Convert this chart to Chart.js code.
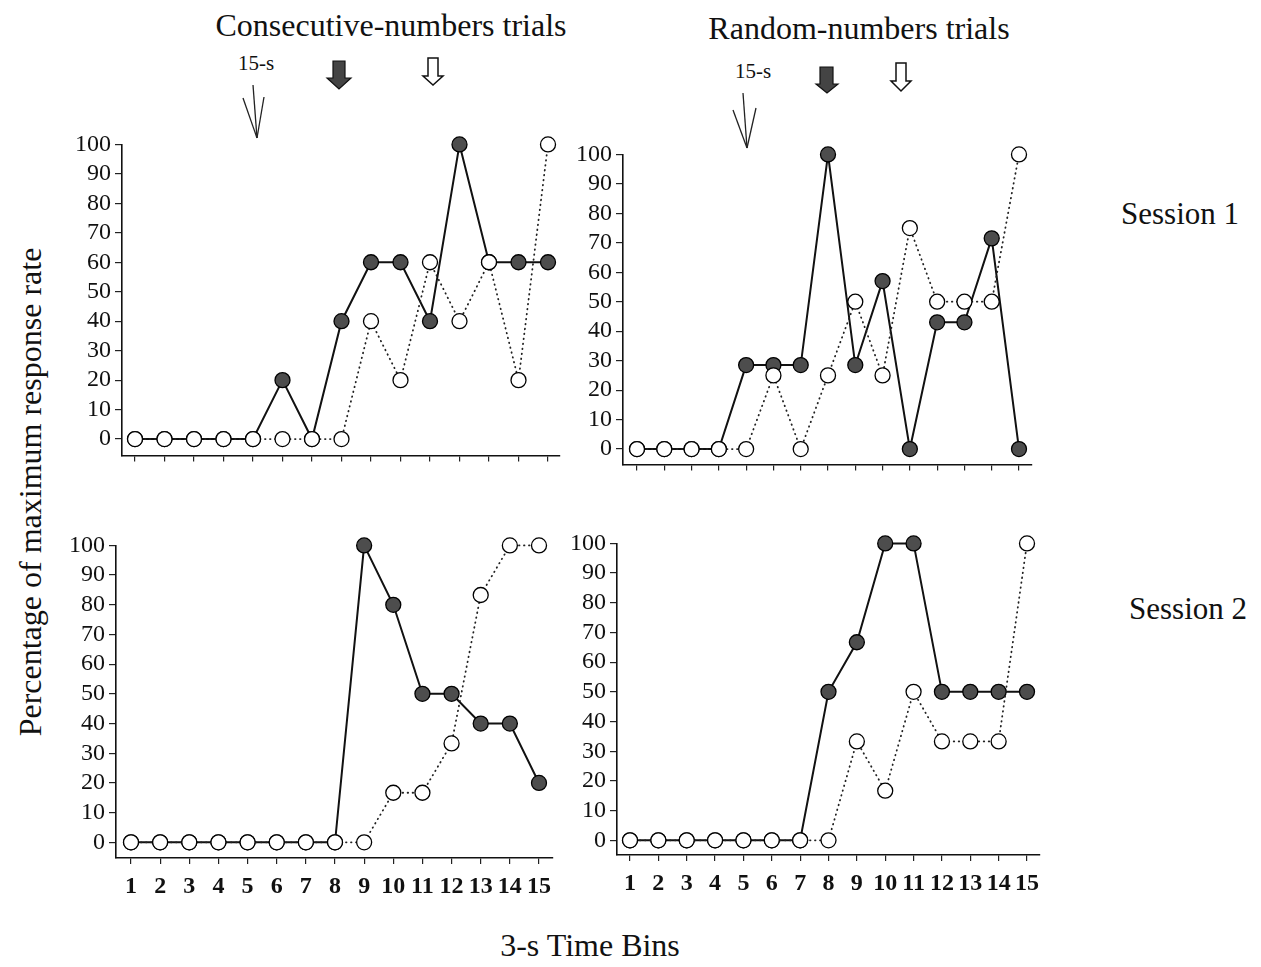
<!DOCTYPE html>
<html>
<head>
<meta charset="utf-8">
<title>Response rate by time bin</title>
<script src="https://cdn.jsdelivr.net/npm/chart.js"></script>
<style>
  body { margin: 0; background: #fff; width: 1261px; height: 967px; position: relative; overflow: hidden;
         font-family: "Liberation Serif", "Times New Roman", serif; color: #111; }
  .lbl { position: absolute; white-space: nowrap; transform: translate(-50%, -50%); line-height: 1; }
  canvas.panel { position: absolute; }
  svg.marks { position: absolute; left: 0; top: 0; pointer-events: none; }
</style>
</head>
<body>

<div class="lbl" style="left:391px;top:25px;font-size:32px;">Consecutive-numbers trials</div>
<div class="lbl" style="left:859px;top:28px;font-size:32px;">Random-numbers trials</div>
<div class="lbl" style="left:256px;top:63px;font-size:21px;">15-s</div>
<div class="lbl" style="left:753px;top:71px;font-size:21px;">15-s</div>
<div class="lbl" style="left:1180px;top:213px;font-size:31px;">Session 1</div>
<div class="lbl" style="left:1188px;top:608px;font-size:31px;">Session 2</div>
<div class="lbl" style="left:30px;top:492px;font-size:32px;transform:translate(-50%,-50%) rotate(-90deg);">Percentage of maximum response rate</div>
<div class="lbl" style="left:590px;top:945px;font-size:32px;">3-s Time Bins</div>

<canvas class="panel" id="tl"></canvas>
<canvas class="panel" id="tr"></canvas>
<canvas class="panel" id="bl"></canvas>
<canvas class="panel" id="br"></canvas>

<svg class="marks" width="1261" height="967">
  <!-- 15-s arrows -->
  <g stroke="#222" stroke-width="1.3" fill="none">
    <line x1="253" y1="85" x2="257" y2="138"/>
    <line x1="243" y1="98" x2="257" y2="138"/>
    <line x1="264" y1="97" x2="257" y2="138"/>
    <line x1="743" y1="93" x2="747" y2="148"/>
    <line x1="733" y1="110" x2="747" y2="148"/>
    <line x1="756" y1="108" x2="747" y2="148"/>
  </g>
  <!-- filled arrows -->
  <g fill="#444" stroke="#111" stroke-width="1.2">
    <polygon points="333,61 345,61 345,78 351,78 339,89 327,78 333,78"/>
    <polygon points="820,67 833,67 833,84 838,84 827,93 816,84 820,84"/>
  </g>
  <!-- open arrows -->
  <g fill="#fff" stroke="#111" stroke-width="1.5">
    <polygon points="428,58 438,58 438,76 443,76 433,85 423,76 428,76"/>
    <polygon points="896,63 906,63 906,81 911,81 901,91 891,81 896,81"/>
  </g>
</svg>

<script>
// 3-s time bins
const bins = [1, 2, 3, 4, 5, 6, 7, 8, 9, 10, 11, 12, 13, 14, 15];
const yTicks = [0, 10, 20, 30, 40, 50, 60, 70, 80, 90, 100];

// Consecutive-numbers trials, session 1
const consS1Filled = [0, 0, 0, 0, 0, 20, 0, 40, 60, 60, 40, 100, 60, 60, 60];
const consS1Open   = [0, 0, 0, 0, 0, 0, 0, 0, 40, 20, 60, 40, 60, 20, 100];
// Random-numbers trials, session 1
const randS1Filled = [0, 0, 0, 0, 28.5, 28.5, 28.5, 100, 28.5, 57, 0, 43, 43, 71.5, 0];
const randS1Open   = [0, 0, 0, 0, 0, 25, 0, 25, 50, 25, 75, 50, 50, 50, 100];
// Consecutive-numbers trials, session 2
const consS2Filled = [0, 0, 0, 0, 0, 0, 0, 0, 100, 80, 50, 50, 40, 40, 20];
const consS2Open   = [0, 0, 0, 0, 0, 0, 0, 0, 0, 16.7, 16.7, 33.3, 83.3, 100, 100];
// Random-numbers trials, session 2
const randS2Filled = [0, 0, 0, 0, 0, 0, 0, 50, 66.7, 100, 100, 50, 50, 50, 50];
const randS2Open   = [0, 0, 0, 0, 0, 0, 0, 0, 33.3, 16.7, 50, 33.3, 33.3, 33.3, 100];

function toPoints(vals) {
    return bins.map((b, i) => ({ x: b, y: vals[i] }));
}

// geo: pixel placement of each panel on the page
function panel(id, geo, openVals, filledVals, showLabels) {
    const padT = 12, padR = 14, yW = 70, xH = showLabels ? 52 : 16;
    const step = (geo.bin15 - geo.bin1) / 14;
    const xMin = 1 - (geo.bin1 - geo.left) / step;
    const xMax = 15 + (geo.right - geo.bin15) / step;
    const yMin = -100 * (geo.bottom - geo.y0) / (geo.y0 - geo.top);

    const cv = document.getElementById(id);
    cv.width = yW + (geo.right - geo.left) + padR;
    cv.height = padT + (geo.bottom - geo.top) + xH;
    cv.style.left = (geo.left - yW) + 'px';
    cv.style.top = (geo.top - padT) + 'px';

    return new Chart(cv.getContext('2d'), {
        type: 'line',
        data: {
            datasets: [{
                label: 'open',
                data: toPoints(openVals),
                borderColor: '#222',
                borderWidth: 1.8,
                borderDash: [0.5, 4.5],
                borderCapStyle: 'round',
                pointRadius: 7.5,
                pointBorderWidth: 1.3,
                pointBorderColor: '#000',
                pointBackgroundColor: '#fff',
                tension: 0,
                clip: false
            }, {
                label: 'filled',
                data: toPoints(filledVals),
                borderColor: '#111',
                borderWidth: 2,
                pointRadius: 7.5,
                pointBorderWidth: 1.3,
                pointBorderColor: '#000',
                pointBackgroundColor: '#4d4d4d',
                tension: 0,
                clip: false
            }]
        },
        options: {
            responsive: false,
            animation: false,
            devicePixelRatio: 1,
            layout: { padding: { top: padT, right: padR, left: 0, bottom: 0 } },
            plugins: { legend: { display: false }, tooltip: { enabled: false } },
            scales: {
                x: {
                    type: 'linear',
                    min: xMin,
                    max: xMax,
                    afterBuildTicks: s => { s.ticks = bins.map(v => ({ value: v })); },
                    afterFit: s => { s.height = xH; },
                    grid: { display: true, drawOnChartArea: false, drawTicks: true, tickLength: 6, color: '#222', lineWidth: 1.2 },
                    border: { display: true, color: '#111', width: 1.6 },
                    ticks: {
                        display: showLabels,
                        color: '#111',
                        padding: 8,
                        autoSkip: false,
                        maxRotation: 0,
                        font: { family: '"Liberation Serif", serif', size: 24, weight: 'bold' }
                    }
                },
                y: {
                    type: 'linear',
                    min: yMin,
                    max: 100,
                    afterBuildTicks: s => { s.ticks = yTicks.map(v => ({ value: v })); },
                    afterFit: s => { s.width = yW; },
                    grid: { display: true, drawOnChartArea: false, drawTicks: true, tickLength: 7, color: '#222', lineWidth: 1.2 },
                    border: { display: true, color: '#111', width: 1.6 },
                    ticks: {
                        color: '#111',
                        padding: 4,
                        autoSkip: false,
                        font: { family: '"Liberation Serif", serif', size: 24 }
                    }
                }
            }
        }
    });
}

panel('tl', { left: 122, top: 138, y0: 441, bottom: 458, right: 560, bin1: 135, bin15: 548 }, consS1Open, consS1Filled, false);
panel('tr', { left: 623, top: 148, y0: 451, bottom: 467, right: 1032, bin1: 637, bin15: 1019 }, randS1Open, randS1Filled, false);
panel('bl', { left: 116, top: 539, y0: 842, bottom: 858, right: 553, bin1: 131, bin15: 539 }, consS2Open, consS2Filled, true);
panel('br', { left: 617, top: 537, y0: 840, bottom: 855, right: 1040, bin1: 630, bin15: 1027 }, randS2Open, randS2Filled, true);
</script>
</body>
</html>
